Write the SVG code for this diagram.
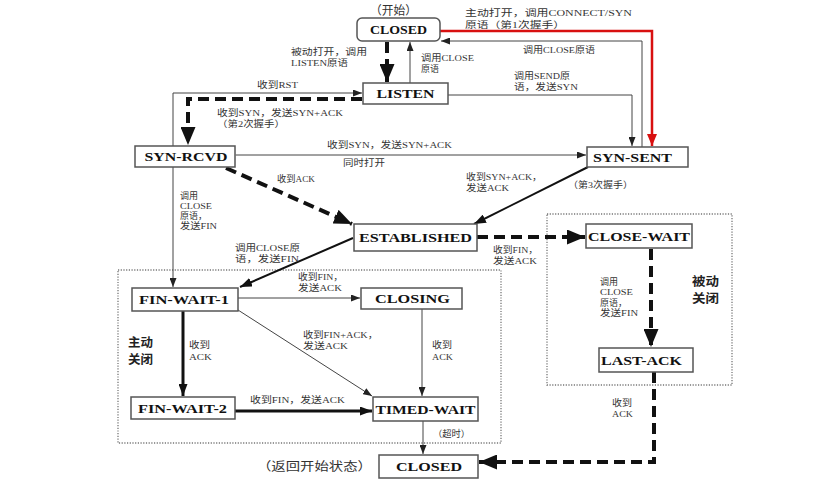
<svg xmlns="http://www.w3.org/2000/svg" width="822" height="499" viewBox="0 0 822 499">
<style>
.box{fill:#fff;stroke:#555;stroke-width:1.5}
.nt{font-family:"Liberation Serif","Noto Sans CJK SC",serif;font-weight:bold;font-size:12px;fill:#111;text-anchor:middle}
.lb{font-family:"Liberation Serif","Noto Sans CJK SC",serif;font-size:9px;fill:#333}
.bl{font-family:"Noto Sans CJK SC",sans-serif;font-size:12px;font-weight:bold;fill:#222}
.cap{font-family:"Noto Sans CJK SC",sans-serif;font-size:12px;fill:#333}
.thin{fill:none;stroke:#444;stroke-width:1}
.med{fill:none;stroke:#111;stroke-width:2}
.thick{fill:none;stroke:#111;stroke-width:3}
.dash{fill:none;stroke:#111;stroke-width:4;stroke-dasharray:11 6}
.red{fill:none;stroke:#d81010;stroke-width:2.5}
.dot{fill:none;stroke:#777;stroke-width:1.3;stroke-dasharray:1.2 1.5}
</style>
<defs>
<marker id="sm" markerUnits="userSpaceOnUse" markerWidth="9" markerHeight="7" refX="9" refY="3.5" orient="auto"><path d="M0,0 L9,3.5 L0,7 z" fill="#222"/></marker>
<marker id="md" markerUnits="userSpaceOnUse" markerWidth="12" markerHeight="9" refX="12" refY="4.5" orient="auto"><path d="M0,0 L12,4.5 L0,9 z" fill="#111"/></marker>
<marker id="lg" markerUnits="userSpaceOnUse" markerWidth="18" markerHeight="15" refX="18" refY="7.5" orient="auto"><path d="M0,0 L18,7.5 L0,15 z" fill="#111"/></marker>
<marker id="rd" markerUnits="userSpaceOnUse" markerWidth="12" markerHeight="10" refX="12" refY="5" orient="auto"><path d="M0,0 L12,5 L0,10 z" fill="#d81010"/></marker>
</defs>

<g id="frames">
<rect class="dot" x="118" y="270" width="383" height="173"/>
<rect class="dot" x="547" y="214" width="185" height="171"/>
</g>

<g id="connectors">
<path class="dash" d="M387,42 V82" marker-end="url(#lg)"/>
<path class="thin" d="M410,83 V42" marker-end="url(#sm)"/>
<path class="red" d="M440,31 H652 V146" marker-end="url(#rd)"/>
<path class="thin" d="M642,147 V41 H441" marker-end="url(#sm)"/>
<path class="thin" d="M448,95 H632 V146" marker-end="url(#sm)"/>
<path class="thin" d="M173,146 V93 H362" marker-end="url(#sm)"/>
<path class="dash" d="M362,99 H188 V145" marker-end="url(#lg)"/>
<path class="thin" d="M236,155 H586" marker-start="url(#sm)" marker-end="url(#sm)"/>
<path class="dash" d="M226,168 L352,224" marker-end="url(#lg)"/>
<path class="med" d="M588,167 L474,224" marker-end="url(#md)"/>
<path class="thin" d="M173,167 V287" marker-end="url(#sm)"/>
<path class="med" d="M353,238 L240,287" marker-end="url(#md)"/>
<path class="dash" d="M477,237 H585" marker-end="url(#lg)"/>
<path class="dash" d="M651,249 V347" marker-end="url(#lg)"/>
<path class="dash" d="M654,372 V462 H479" marker-end="url(#lg)"/>
<path class="thin" d="M238,298 H360" marker-end="url(#sm)"/>
<path class="thick" d="M183,311 V396" marker-end="url(#md)"/>
<path class="thin" d="M238,310 L372,396" marker-end="url(#sm)"/>
<path class="thin" d="M422,309 V396" marker-end="url(#sm)"/>
<path class="thick" d="M235,411 H372" marker-end="url(#md)"/>
<path class="thin" d="M423,421 V454" marker-end="url(#sm)"/>
</g>

<g id="labels">
<text class="cap" x="370" y="15" textLength="47" lengthAdjust="spacingAndGlyphs">（开始）</text>
<text class="lb" x="465" y="16" textLength="167" lengthAdjust="spacingAndGlyphs">主动打开，调用CONNECT/SYN</text>
<text class="lb" x="465" y="28" textLength="100" lengthAdjust="spacingAndGlyphs">原语（第1次握手）</text>
<text class="lb" x="291" y="55" textLength="76" lengthAdjust="spacingAndGlyphs">被动打开，调用</text>
<text class="lb" x="291" y="66" textLength="57" lengthAdjust="spacingAndGlyphs">LISTEN原语</text>
<text class="lb" x="421" y="61" textLength="53" lengthAdjust="spacingAndGlyphs">调用CLOSE</text>
<text class="lb" x="421" y="72">原语</text>
<text class="lb" x="523" y="53" textLength="72" lengthAdjust="spacingAndGlyphs">调用CLOSE原语</text>
<text class="lb" x="514" y="79" textLength="56" lengthAdjust="spacingAndGlyphs">调用SEND原</text>
<text class="lb" x="514" y="90" textLength="64" lengthAdjust="spacingAndGlyphs">语，发送SYN</text>
<text class="lb" x="257" y="88" textLength="41" lengthAdjust="spacingAndGlyphs">收到RST</text>
<text class="lb" x="217" y="116" textLength="126" lengthAdjust="spacingAndGlyphs">收到SYN，发送SYN+ACK</text>
<text class="lb" x="217" y="127" textLength="68" lengthAdjust="spacingAndGlyphs">（第2次握手）</text>
<text class="lb" x="327" y="148" textLength="125" lengthAdjust="spacingAndGlyphs">收到SYN，发送SYN+ACK</text>
<text class="lb" x="343" y="166" textLength="42" lengthAdjust="spacingAndGlyphs">同时打开</text>
<text class="lb" x="277" y="182" textLength="38" lengthAdjust="spacingAndGlyphs">收到ACK</text>
<text class="lb" x="466" y="180" textLength="76" lengthAdjust="spacingAndGlyphs">收到SYN+ACK，</text>
<text class="lb" x="466" y="191" textLength="43" lengthAdjust="spacingAndGlyphs">发送ACK</text>
<text class="lb" x="568" y="188" textLength="65" lengthAdjust="spacingAndGlyphs">（第3次握手）</text>
<text class="lb" x="180" y="199">调用</text>
<text class="lb" x="180" y="209" textLength="32" lengthAdjust="spacingAndGlyphs">CLOSE</text>
<text class="lb" x="180" y="219">原语，</text>
<text class="lb" x="180" y="229" textLength="37" lengthAdjust="spacingAndGlyphs">发送FIN</text>
<text class="lb" x="235" y="251" textLength="65" lengthAdjust="spacingAndGlyphs">调用CLOSE原</text>
<text class="lb" x="235" y="262" textLength="64" lengthAdjust="spacingAndGlyphs">语，发送FIN</text>
<text class="lb" x="493" y="253" textLength="45" lengthAdjust="spacingAndGlyphs">收到FIN，</text>
<text class="lb" x="493" y="264" textLength="44" lengthAdjust="spacingAndGlyphs">发送ACK</text>
<text class="lb" x="600" y="285">调用</text>
<text class="lb" x="600" y="295" textLength="33" lengthAdjust="spacingAndGlyphs">CLOSE</text>
<text class="lb" x="600" y="306">原语，</text>
<text class="lb" x="600" y="316" textLength="38" lengthAdjust="spacingAndGlyphs">发送FIN</text>
<text class="bl" x="692" y="286" textLength="27" lengthAdjust="spacingAndGlyphs">被动</text>
<text class="bl" x="692" y="303" textLength="27" lengthAdjust="spacingAndGlyphs">关闭</text>
<text class="lb" x="298" y="280" textLength="45" lengthAdjust="spacingAndGlyphs">收到FIN，</text>
<text class="lb" x="298" y="291" textLength="44" lengthAdjust="spacingAndGlyphs">发送ACK</text>
<text class="bl" x="128" y="347" textLength="25" lengthAdjust="spacingAndGlyphs">主动</text>
<text class="bl" x="128" y="364" textLength="25" lengthAdjust="spacingAndGlyphs">关闭</text>
<text class="lb" x="189" y="348" textLength="21" lengthAdjust="spacingAndGlyphs">收到</text>
<text class="lb" x="189" y="360" textLength="23" lengthAdjust="spacingAndGlyphs">ACK</text>
<text class="lb" x="303" y="338" textLength="75" lengthAdjust="spacingAndGlyphs">收到FIN+ACK，</text>
<text class="lb" x="303" y="349" textLength="45" lengthAdjust="spacingAndGlyphs">发送ACK</text>
<text class="lb" x="432" y="348" textLength="20" lengthAdjust="spacingAndGlyphs">收到</text>
<text class="lb" x="432" y="360" textLength="21" lengthAdjust="spacingAndGlyphs">ACK</text>
<text class="lb" x="250" y="403" textLength="95" lengthAdjust="spacingAndGlyphs">收到FIN，发送ACK</text>
<text class="lb" x="433" y="437" textLength="37" lengthAdjust="spacingAndGlyphs">（超时）</text>
<text class="lb" x="612" y="406" textLength="20" lengthAdjust="spacingAndGlyphs">收到</text>
<text class="lb" x="612" y="417" textLength="21" lengthAdjust="spacingAndGlyphs">ACK</text>
<text class="cap" x="257" y="471" textLength="115" lengthAdjust="spacingAndGlyphs">（返回开始状态）</text>
</g>

<g id="closed-top"><rect class="box" x="357" y="18" width="83" height="23" rx="5"/><text class="nt" x="398.5" y="34" textLength="57" lengthAdjust="spacingAndGlyphs">CLOSED</text></g>
<g id="listen"><rect class="box" x="363" y="83" width="85" height="21"/><text class="nt" x="405.5" y="98" textLength="58" lengthAdjust="spacingAndGlyphs">LISTEN</text></g>
<g id="syn-rcvd"><rect class="box" x="135" y="146" width="100" height="21"/><text class="nt" x="186" y="161" textLength="83" lengthAdjust="spacingAndGlyphs">SYN-RCVD</text></g>
<g id="syn-sent"><rect class="box" x="587" y="147" width="101" height="20"/><text class="nt" x="632.5" y="161.5" textLength="79" lengthAdjust="spacingAndGlyphs">SYN-SENT</text></g>
<g id="established"><rect class="box" x="354" y="224" width="123" height="27"/><text class="nt" x="415.5" y="242" textLength="113" lengthAdjust="spacingAndGlyphs">ESTABLISHED</text></g>
<g id="close-wait"><rect class="box" x="586" y="224" width="106" height="24"/><text class="nt" x="639" y="240.5" textLength="102" lengthAdjust="spacingAndGlyphs">CLOSE-WAIT</text></g>
<g id="last-ack"><rect class="box" x="599" y="348" width="94" height="24"/><text class="nt" x="641.5" y="364.5" textLength="81" lengthAdjust="spacingAndGlyphs">LAST-ACK</text></g>
<g id="fin-wait-1"><rect class="box" x="132" y="288" width="106" height="23"/><text class="nt" x="184" y="303.5" textLength="90" lengthAdjust="spacingAndGlyphs">FIN-WAIT-1</text></g>
<g id="closing"><rect class="box" x="361" y="288" width="101" height="21"/><text class="nt" x="412.5" y="303" textLength="75" lengthAdjust="spacingAndGlyphs">CLOSING</text></g>
<g id="fin-wait-2"><rect class="box" x="131" y="397" width="104" height="22"/><text class="nt" x="182.5" y="412.5" textLength="89" lengthAdjust="spacingAndGlyphs">FIN-WAIT-2</text></g>
<g id="timed-wait"><rect class="box" x="373" y="397" width="105" height="24"/><text class="nt" x="425.5" y="413.5" textLength="100" lengthAdjust="spacingAndGlyphs">TIMED-WAIT</text></g>
<g id="closed-bottom"><rect class="box" x="379" y="455" width="99" height="23"/><text class="nt" x="429" y="471" textLength="66" lengthAdjust="spacingAndGlyphs">CLOSED</text></g>
</svg>
